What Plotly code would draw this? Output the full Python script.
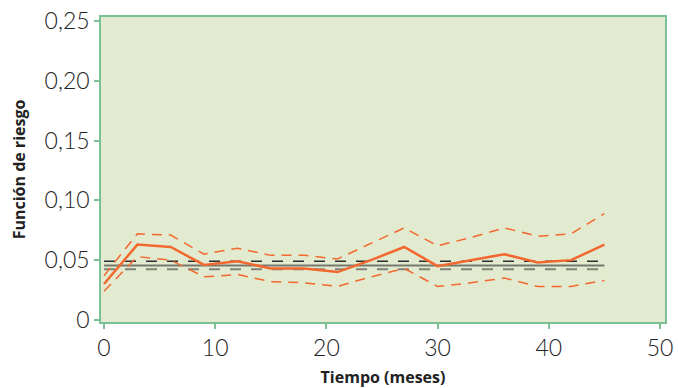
import plotly.graph_objects as go

months = [0, 3, 6, 9, 12, 15, 18, 21, 24, 27, 30, 33, 36, 39, 42, 45]
hazard = [0.030, 0.063, 0.061, 0.046, 0.049, 0.043, 0.043, 0.040, 0.050, 0.061, 0.045, 0.050, 0.055, 0.048, 0.050, 0.063]
upper = [0.037, 0.072, 0.071, 0.055, 0.060, 0.054, 0.054, 0.051, 0.064, 0.077, 0.062, 0.069, 0.077, 0.070, 0.072, 0.089]
lower = [0.024, 0.053, 0.050, 0.036, 0.038, 0.032, 0.031, 0.028, 0.036, 0.043, 0.028, 0.031, 0.035, 0.028, 0.028, 0.033]

const_x = [0, 45]
const_h = [0.0456, 0.0456]
const_up = [0.0490, 0.0490]
const_lo = [0.0423, 0.0423]

y_ticks = [0, 0.05, 0.10, 0.15, 0.20, 0.25]
y_labels = ["0", "0,05", "0,10", "0,15", "0,20", "0,25"]
x_ticks = [0, 10, 20, 30, 40, 50]

ORANGE = "#f2682e"
GREEN = "#7cc096"

fig = go.Figure()
fig.add_trace(go.Scatter(x=const_x, y=const_up, mode="lines",
                         line=dict(color="#2e2e2e", width=1.5, dash="11px,10px")))
fig.add_trace(go.Scatter(x=const_x, y=const_lo, mode="lines",
                         line=dict(color="#80827a", width=2, dash="11px,10px")))
fig.add_trace(go.Scatter(x=const_x, y=const_h, mode="lines",
                         line=dict(color="#767870", width=2)))
fig.add_trace(go.Scatter(x=months, y=upper, mode="lines",
                         line=dict(color=ORANGE, width=1.5, dash="10px,7px")))
fig.add_trace(go.Scatter(x=months, y=lower, mode="lines",
                         line=dict(color=ORANGE, width=1.5, dash="10px,7px")))
fig.add_trace(go.Scatter(x=months, y=hazard, mode="lines",
                         line=dict(color=ORANGE, width=2.5)))

fig.update_layout(
    width=678, height=388,
    margin=dict(l=101, r=13, t=17, b=66),
    paper_bgcolor="white",
    plot_bgcolor="#e2ebd0",
    showlegend=False,
    font=dict(family="Lato, 'Open Sans', sans-serif", color="#333333"),
)
fig.update_xaxes(
    range=[-0.27, 50.45], tickvals=x_ticks, automargin=False,
    showgrid=False, zeroline=False,
    showline=True, linecolor=GREEN, linewidth=1.5, mirror=True,
    ticks="outside", ticklen=5, tickcolor=GREEN, tickwidth=1.5,
    tickfont=dict(size=23, color="#222222", weight=300),
    title=dict(text="Tiempo (meses)",
               font=dict(family="'Open Sans', sans-serif", size=16, weight="bold", color="#222222"),
               standoff=13),
)
fig.update_yaxes(
    range=[-0.0018, 0.2536], tickvals=y_ticks, ticktext=y_labels, automargin=False,
    showgrid=False, zeroline=False,
    showline=True, linecolor=GREEN, linewidth=1.5, mirror=True,
    ticks="outside", ticklen=5, tickcolor=GREEN, tickwidth=1.5,
    tickfont=dict(size=23, color="#222222", weight=300),
    title=dict(text="Función de riesgo",
               font=dict(family="'Open Sans', sans-serif", size=16, weight="bold", color="#222222"),
               standoff=15),
)

fig.write_html("out.html", config={"displayModeBar": False},
               post_script="document.body.style.margin='0';")
